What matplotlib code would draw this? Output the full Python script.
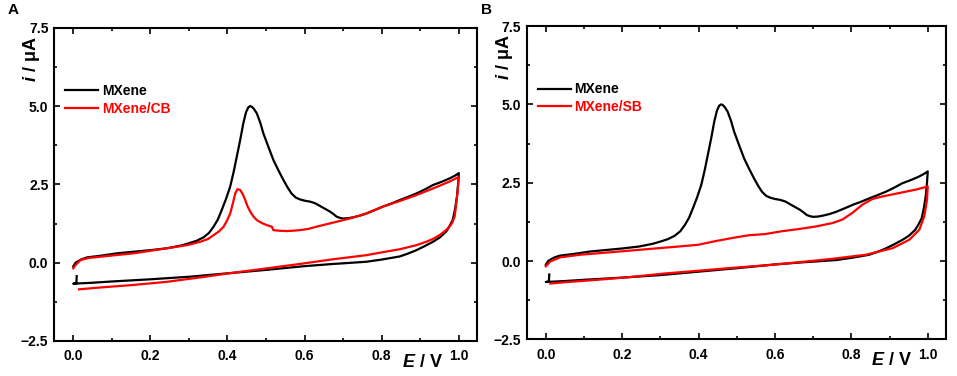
import matplotlib
matplotlib.use("Agg")
import matplotlib.pyplot as plt
from matplotlib.ticker import MultipleLocator

plt.rcParams['font.family'] = ['Liberation Sans', 'DejaVu Sans']
plt.rcParams['mathtext.fontset'] = 'custom'
plt.rcParams['mathtext.it'] = 'Liberation Sans:italic:bold'
plt.rcParams['mathtext.rm'] = 'Liberation Sans:bold'

# MXene (same electrode in both panels): anodic then cathodic sweep
mx_fwd_E = [0.0, 0.006, 0.02, 0.036, 0.07, 0.114, 0.157, 0.2, 0.243, 0.26,
            0.28, 0.30, 0.32, 0.338, 0.352, 0.364, 0.375, 0.385, 0.396, 0.407,
            0.416, 0.424, 0.433, 0.441, 0.448, 0.454, 0.459, 0.463, 0.468, 0.476,
            0.485, 0.493, 0.506, 0.519, 0.532, 0.545, 0.556, 0.566, 0.577, 0.588,
            0.60, 0.614, 0.627, 0.64, 0.653, 0.666, 0.675, 0.683, 0.692, 0.70,
            0.713, 0.726, 0.743, 0.76, 0.78, 0.803, 0.825, 0.847, 0.868, 0.89,
            0.912, 0.933, 0.955, 0.976, 0.99, 1.0]
mx_fwd_i = [-0.12, 0.0, 0.1, 0.17, 0.22, 0.3, 0.35, 0.4, 0.46, 0.5,
            0.55, 0.62, 0.7, 0.81, 0.95, 1.15, 1.38, 1.68, 2.03, 2.43,
            2.9, 3.38, 3.92, 4.45, 4.8, 4.96, 5.0, 4.98, 4.92, 4.77,
            4.47, 4.13, 3.7, 3.28, 2.95, 2.64, 2.4, 2.21, 2.08, 2.02,
            1.98, 1.95, 1.9, 1.81, 1.72, 1.63, 1.55, 1.47, 1.43, 1.41,
            1.42, 1.45, 1.5, 1.57, 1.67, 1.79, 1.89, 2.0, 2.1, 2.21,
            2.34, 2.48, 2.58, 2.69, 2.78, 2.86]
mx_rev_E = [1.0, 0.998, 0.995, 0.99, 0.984, 0.975, 0.967, 0.95, 0.933, 0.91,
            0.89, 0.87, 0.847, 0.8, 0.76, 0.7, 0.674, 0.6, 0.5, 0.4,
            0.3, 0.2, 0.1, 0.05, 0.0, 0.008, 0.009]
mx_rev_i = [2.86, 2.5, 2.1, 1.7, 1.36, 1.15, 0.99, 0.8, 0.67, 0.52,
            0.4, 0.3, 0.2, 0.1, 0.03, -0.02, -0.04, -0.11, -0.23, -0.34,
            -0.45, -0.53, -0.6, -0.64, -0.67, -0.66, -0.43]

# MXene/CB (panel A)
cb_fwd_E = [0.0, 0.006, 0.019, 0.04, 0.07, 0.157, 0.243, 0.295, 0.33, 0.35,
            0.364, 0.378, 0.39, 0.399, 0.407, 0.414, 0.42, 0.426, 0.433, 0.44,
            0.446, 0.452, 0.459, 0.467, 0.476, 0.49, 0.502, 0.512, 0.515, 0.519,
            0.535, 0.553, 0.57, 0.588, 0.61, 0.631, 0.674, 0.717, 0.76, 0.803,
            0.847, 0.89, 0.933, 0.976, 1.0]
cb_fwd_i = [-0.18, -0.07, 0.085, 0.15, 0.19, 0.3, 0.46, 0.56, 0.67, 0.76,
            0.88, 1.0, 1.15, 1.35, 1.57, 1.9, 2.21, 2.35, 2.32, 2.18,
            2.0, 1.8, 1.63, 1.48, 1.36, 1.26, 1.2, 1.16, 1.15, 1.04,
            1.02, 1.01, 1.02, 1.04, 1.08, 1.15, 1.28, 1.41, 1.57, 1.79,
            1.97, 2.16, 2.37, 2.59, 2.74]
cb_rev_E = [1.0, 0.997, 0.993, 0.989, 0.983, 0.976, 0.963, 0.95, 0.933, 0.916,
            0.89, 0.847, 0.8, 0.76, 0.674, 0.588, 0.502, 0.416, 0.329, 0.243,
            0.157, 0.071, 0.015]
cb_rev_i = [2.74, 2.3, 1.85, 1.47, 1.28, 1.15, 1.0, 0.88, 0.76, 0.67,
            0.56, 0.43, 0.33, 0.24, 0.11, -0.04, -0.18, -0.32, -0.47, -0.61,
            -0.71, -0.79, -0.85]

# MXene/SB (panel B)
sb_fwd_E = [0.0, 0.012, 0.039, 0.09, 0.18, 0.267, 0.355, 0.4, 0.442, 0.486,
            0.53, 0.574, 0.618, 0.662, 0.706, 0.75, 0.776, 0.802, 0.829, 0.855,
            0.881, 0.925, 0.969, 1.0]
sb_fwd_i = [-0.17, -0.01, 0.12, 0.2, 0.29, 0.38, 0.47, 0.52, 0.63, 0.73,
            0.82, 0.86, 0.95, 1.02, 1.1, 1.21, 1.32, 1.53, 1.8, 1.98,
            2.06, 2.17, 2.28, 2.38]
sb_rev_E = [1.0, 0.998, 0.991, 0.978, 0.952, 0.908, 0.838, 0.75, 0.662, 0.574,
            0.486, 0.4, 0.31, 0.223, 0.135, 0.047, 0.012]
sb_rev_i = [2.38, 1.96, 1.43, 1.0, 0.68, 0.41, 0.2, 0.07, -0.04, -0.14,
            -0.22, -0.31, -0.4, -0.51, -0.6, -0.68, -0.72]

panels = [
    ('A', 'MXene/CB', cb_fwd_E + cb_rev_E, cb_fwd_i + cb_rev_i, [0.0564, 0.0931, 0.442, 0.833]),
    ('B', 'MXene/SB', sb_fwd_E + sb_rev_E, sb_fwd_i + sb_rev_i, [0.5504, 0.0976, 0.4378, 0.833]),
]

fig = plt.figure(figsize=(9.57, 3.76), dpi=100)

for letter, red_label, rE, ri, pos in panels:
    ax = fig.add_axes(pos)
    ax.plot(mx_fwd_E + mx_rev_E, mx_fwd_i + mx_rev_i, color='black', lw=1.6, label='MXene')
    ax.plot(rE, ri, color='#ff0000', lw=1.6, label=red_label)

    ax.set_xlim(-0.05, 1.047)
    ax.set_ylim(-2.5, 7.5)
    ax.xaxis.set_major_locator(MultipleLocator(0.2))
    ax.xaxis.set_minor_locator(MultipleLocator(0.1))
    ax.yaxis.set_major_locator(MultipleLocator(2.5))
    ax.yaxis.set_minor_locator(MultipleLocator(1.25))
    ax.tick_params(which='both', direction='in', top=True, right=True, width=1.2)
    ax.tick_params(which='major', length=4)
    ax.tick_params(which='minor', length=2.5)
    ax.tick_params(axis='x', which='major', pad=6)
    ax.tick_params(axis='y', which='major', pad=4)
    for lab in ax.get_xticklabels() + ax.get_yticklabels():
        lab.set_fontsize(10)
        lab.set_fontweight('bold')
    for sp in ax.spines.values():
        sp.set_linewidth(1.5)

    ax.text(-0.052, 0.828, r'$i$ / μA', transform=ax.transAxes, rotation=90,
            ha='center', va='bottom', fontsize=13, fontweight='bold')
    ax.text(0.87, -0.068, r'$E$ / V', transform=ax.transAxes,
            ha='center', va='center', fontsize=13, fontweight='bold')

    ax.legend(loc='upper left', bbox_to_anchor=(0.026, 0.82), frameon=False,
              handlelength=2.4, handletextpad=0.25, labelspacing=0.25,
              borderpad=0, borderaxespad=0, labelcolor='linecolor',
              prop={'size': 10, 'weight': 'bold'})

    fig.text(pos[0] - 0.048, 0.955, letter, fontsize=11, fontweight='bold',
             ha='left', va='bottom')

fig.savefig('out.png', dpi=100)
